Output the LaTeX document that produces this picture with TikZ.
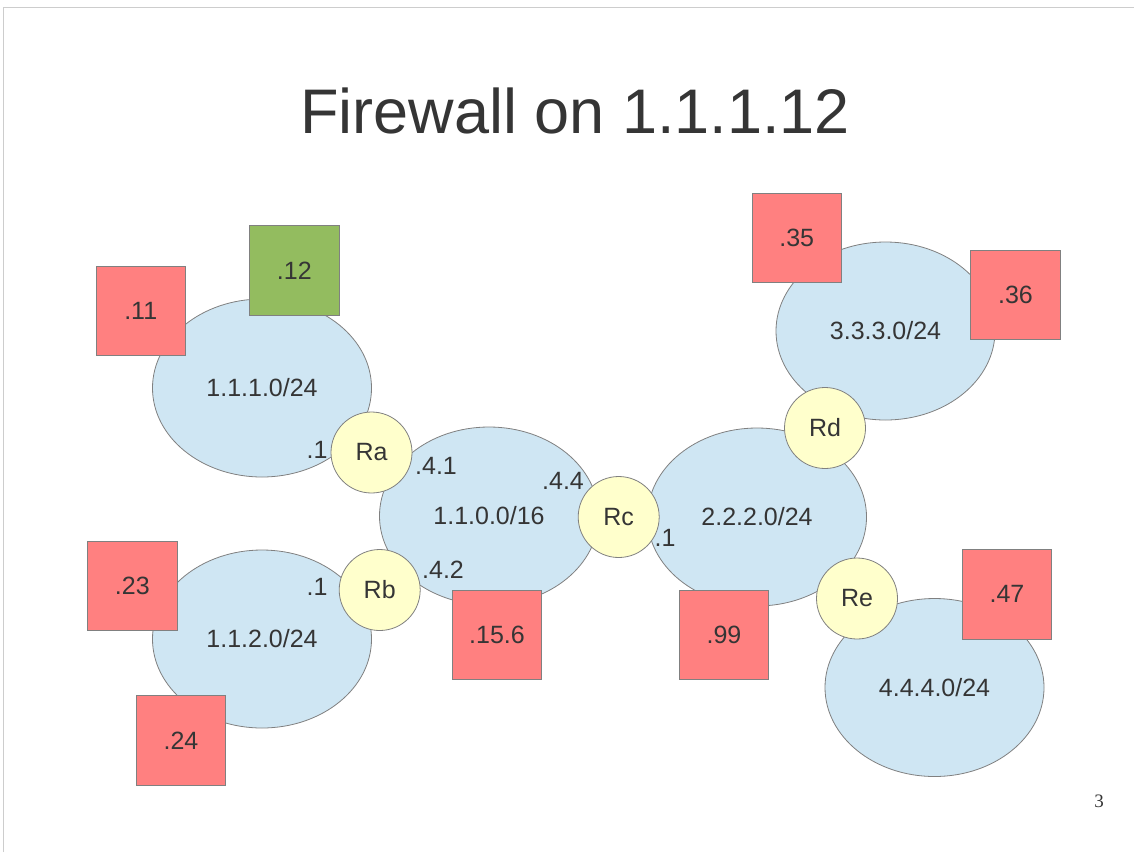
\documentclass[tikz,border=0pt]{standalone}
\usepackage{fontspec}
\setmainfont{Liberation Sans}
\newfontfamily\pagenumfont{Liberation Serif}
\usetikzlibrary{shapes.geometric}

\definecolor{txt}{HTML}{353535}
\definecolor{netfill}{RGB}{207,230,243}
\definecolor{rtfill}{RGB}{255,255,204}
\definecolor{hostred}{RGB}{255,128,128}
\definecolor{hostgreen}{RGB}{147,188,95}
\definecolor{edge}{RGB}{128,128,128}
\definecolor{frame}{RGB}{205,205,205}

\tikzset{
  lbl/.style={font=\fontsize{25}{29}\selectfont, text=txt},
  net/.style={ellipse, draw=edge, line width=0.8pt, fill=netfill,
              minimum width=219pt, minimum height=178pt, inner sep=0pt, lbl},
  router/.style={circle, draw=edge, line width=0.8pt, fill=rtfill,
                 minimum size=81pt, inner sep=0pt, lbl},
  host/.style={rectangle, draw=edge, line width=0.8pt, fill=hostred,
               minimum size=89.5pt, inner sep=0pt, lbl},
  okhost/.style={host, fill=hostgreen},
  addr/.style={lbl, inner sep=0pt},
}

\begin{document}
\begin{tikzpicture}[x=1pt, y=-1pt]
  \useasboundingbox (0,0) rectangle (1134,852);
  \fill[white] (0,0) rectangle (1134,852);
  % slide edge
  \draw[frame, line width=1pt] (3,852) -- (3,7) -- (1134,7);

  % title
  \node[anchor=base, font=\fontsize{63}{70}\selectfont, text=txt, inner sep=0pt]
    (title) at (575,133.5) {Firewall on 1.1.1.12};

  % networks
  \node[net] (n111) at (262,388) {1.1.1.0/24};
  \node[net] (n112) at (262,639) {1.1.2.0/24};
  \node[net] (n110) at (489,516) {1.1.0.0/16};
  \node[net] (n222) at (757,517) {2.2.2.0/24};
  \node[net] (n333) at (885.5,331) {3.3.3.0/24};
  \node[net] (n444) at (934.5,687.5) {4.4.4.0/24};

  % hosts
  \node[host]   (h11)  at (140.7,311)   {.11};
  \node[okhost] (h12)  at (294.3,270.3) {.12};
  \node[host]   (h23)  at (132.3,586)   {.23};
  \node[host]   (h24)  at (181,740.3)   {.24};
  \node[host]   (h156) at (497,635)     {.15.6};
  \node[host]   (h99)  at (724,635)     {.99};
  \node[host]   (h35)  at (796.7,238)   {.35};
  \node[host]   (h36)  at (1015.5,294.7) {.36};
  \node[host]   (h47)  at (1007,594.3)  {.47};

  % routers
  \node[router] (ra) at (371.5,452.5) {Ra};
  \node[router] (rb) at (379.7,590)   {Rb};
  \node[router] (rc) at (618.7,517)   {Rc};
  \node[router] (rd) at (825,428)     {Rd};
  \node[router] (re) at (857,598.5)   {Re};

  % interface addresses
  \node[addr] (ra1)  at (317,450) {.1};
  \node[addr] (ra41) at (436,466) {.4.1};
  \node[addr] (rc44) at (563,481) {.4.4};
  \node[addr] (rc1)  at (665,538) {.1};
  \node[addr] (rb42) at (443,570) {.4.2};
  \node[addr] (rb1)  at (317,587) {.1};

  % page number
  \node[font=\pagenumfont\fontsize{19}{22}\selectfont, text=txt, inner sep=0pt]
    (pg) at (1099,801) {3};
\end{tikzpicture}
\end{document}
